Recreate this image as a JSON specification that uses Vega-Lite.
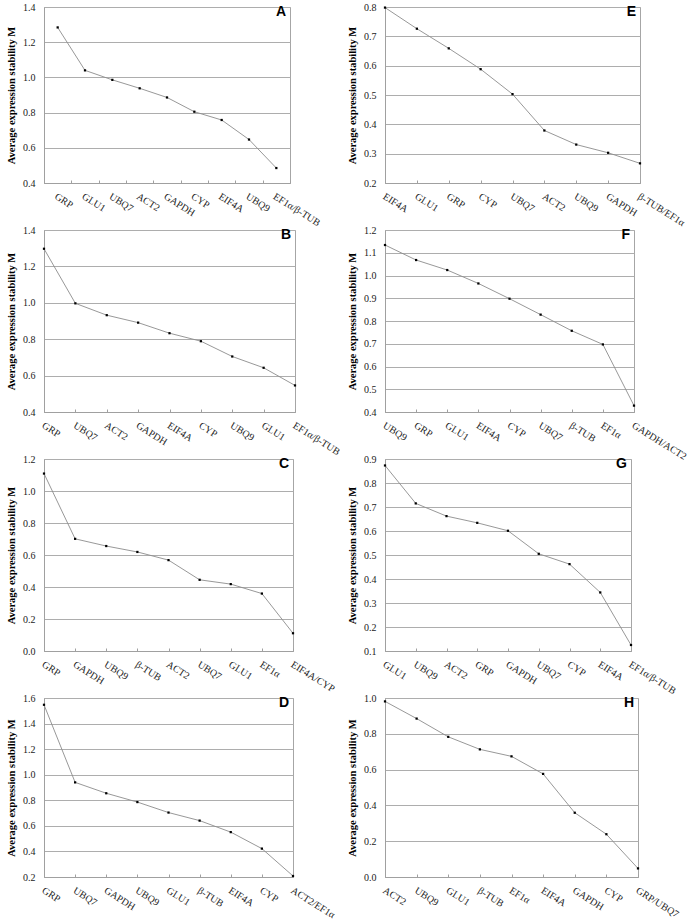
{
  "$schema": "https://vega.github.io/schema/vega-lite/v6.json",
  "padding": {"left": 6, "top": 1, "right": 0, "bottom": 0},
  "background": "white",
  "data": {"values": [
    {"panel": "A", "rank": 1, "gene": "GRP", "M": 1.284},
    {"panel": "A", "rank": 2, "gene": "GLU1", "M": 1.040},
    {"panel": "A", "rank": 3, "gene": "UBQ7", "M": 0.986},
    {"panel": "A", "rank": 4, "gene": "ACT2", "M": 0.938},
    {"panel": "A", "rank": 5, "gene": "GAPDH", "M": 0.886},
    {"panel": "A", "rank": 6, "gene": "CYP", "M": 0.805},
    {"panel": "A", "rank": 7, "gene": "EIF4A", "M": 0.758},
    {"panel": "A", "rank": 8, "gene": "UBQ9", "M": 0.647},
    {"panel": "A", "rank": 9, "gene": "EF1α/β-TUB", "M": 0.485},
    {"panel": "B", "rank": 1, "gene": "GRP", "M": 1.297},
    {"panel": "B", "rank": 2, "gene": "UBQ7", "M": 0.997},
    {"panel": "B", "rank": 3, "gene": "ACT2", "M": 0.932},
    {"panel": "B", "rank": 4, "gene": "GAPDH", "M": 0.891},
    {"panel": "B", "rank": 5, "gene": "EIF4A", "M": 0.833},
    {"panel": "B", "rank": 6, "gene": "CYP", "M": 0.789},
    {"panel": "B", "rank": 7, "gene": "UBQ9", "M": 0.705},
    {"panel": "B", "rank": 8, "gene": "GLU1", "M": 0.643},
    {"panel": "B", "rank": 9, "gene": "EF1α/β-TUB", "M": 0.546},
    {"panel": "C", "rank": 1, "gene": "GRP", "M": 1.109},
    {"panel": "C", "rank": 2, "gene": "GAPDH", "M": 0.701},
    {"panel": "C", "rank": 3, "gene": "UBQ9", "M": 0.656},
    {"panel": "C", "rank": 4, "gene": "β-TUB", "M": 0.619},
    {"panel": "C", "rank": 5, "gene": "ACT2", "M": 0.568},
    {"panel": "C", "rank": 6, "gene": "UBQ7", "M": 0.445},
    {"panel": "C", "rank": 7, "gene": "GLU1", "M": 0.418},
    {"panel": "C", "rank": 8, "gene": "EF1α", "M": 0.359},
    {"panel": "C", "rank": 9, "gene": "EIF4A/CYP", "M": 0.111},
    {"panel": "D", "rank": 1, "gene": "GRP", "M": 1.547},
    {"panel": "D", "rank": 2, "gene": "UBQ7", "M": 0.940},
    {"panel": "D", "rank": 3, "gene": "GAPDH", "M": 0.855},
    {"panel": "D", "rank": 4, "gene": "UBQ9", "M": 0.786},
    {"panel": "D", "rank": 5, "gene": "GLU1", "M": 0.704},
    {"panel": "D", "rank": 6, "gene": "β-TUB", "M": 0.641},
    {"panel": "D", "rank": 7, "gene": "EIF4A", "M": 0.551},
    {"panel": "D", "rank": 8, "gene": "CYP", "M": 0.422},
    {"panel": "D", "rank": 9, "gene": "ACT2/EF1α", "M": 0.208},
    {"panel": "E", "rank": 1, "gene": "EIF4A", "M": 0.798},
    {"panel": "E", "rank": 2, "gene": "GLU1", "M": 0.726},
    {"panel": "E", "rank": 3, "gene": "GRP", "M": 0.659},
    {"panel": "E", "rank": 4, "gene": "CYP", "M": 0.588},
    {"panel": "E", "rank": 5, "gene": "UBQ7", "M": 0.503},
    {"panel": "E", "rank": 6, "gene": "ACT2", "M": 0.379},
    {"panel": "E", "rank": 7, "gene": "UBQ9", "M": 0.331},
    {"panel": "E", "rank": 8, "gene": "GAPDH", "M": 0.303},
    {"panel": "E", "rank": 9, "gene": "β-TUB/EF1α", "M": 0.267},
    {"panel": "F", "rank": 1, "gene": "UBQ9", "M": 1.134},
    {"panel": "F", "rank": 2, "gene": "GRP", "M": 1.068},
    {"panel": "F", "rank": 3, "gene": "GLU1", "M": 1.024},
    {"panel": "F", "rank": 4, "gene": "EIF4A", "M": 0.965},
    {"panel": "F", "rank": 5, "gene": "CYP", "M": 0.898},
    {"panel": "F", "rank": 6, "gene": "UBQ7", "M": 0.828},
    {"panel": "F", "rank": 7, "gene": "β-TUB", "M": 0.757},
    {"panel": "F", "rank": 8, "gene": "EF1α", "M": 0.697},
    {"panel": "F", "rank": 9, "gene": "GAPDH/ACT2", "M": 0.428},
    {"panel": "G", "rank": 1, "gene": "GLU1", "M": 0.873},
    {"panel": "G", "rank": 2, "gene": "UBQ9", "M": 0.715},
    {"panel": "G", "rank": 3, "gene": "ACT2", "M": 0.662},
    {"panel": "G", "rank": 4, "gene": "GRP", "M": 0.634},
    {"panel": "G", "rank": 5, "gene": "GAPDH", "M": 0.601},
    {"panel": "G", "rank": 6, "gene": "UBQ7", "M": 0.505},
    {"panel": "G", "rank": 7, "gene": "CYP", "M": 0.462},
    {"panel": "G", "rank": 8, "gene": "EIF4A", "M": 0.344},
    {"panel": "G", "rank": 9, "gene": "EF1α/β-TUB", "M": 0.125},
    {"panel": "H", "rank": 1, "gene": "ACT2", "M": 0.981},
    {"panel": "H", "rank": 2, "gene": "UBQ9", "M": 0.885},
    {"panel": "H", "rank": 3, "gene": "GLU1", "M": 0.783},
    {"panel": "H", "rank": 4, "gene": "β-TUB", "M": 0.713},
    {"panel": "H", "rank": 5, "gene": "EF1α", "M": 0.674},
    {"panel": "H", "rank": 6, "gene": "EIF4A", "M": 0.576},
    {"panel": "H", "rank": 7, "gene": "GAPDH", "M": 0.359},
    {"panel": "H", "rank": 8, "gene": "CYP", "M": 0.239},
    {"panel": "H", "rank": 9, "gene": "GRP/UBQ7", "M": 0.048}
  ]},
  "columns": 2,
  "bounds": "flush",
  "spacing": {"row": 47, "column": 90},
  "concat": [
    {
      "width": 246, "height": 176,
      "title": {"text": "A"},
      "transform": [{"filter": "datum.panel === 'A'"}],
      "encoding": {
        "x": {"field": "gene", "type": "nominal", "sort": {"field": "rank", "op": "min"},
              "scale": {"type": "band", "paddingInner": 0, "paddingOuter": 0},
              "axis": {"tickBand": "extent", "labelOffset": 0}},
        "y": {"field": "M", "type": "quantitative", "scale": {"domain": [0.4, 1.4], "nice": false, "zero": false},
              "axis": {"values": [0.4, 0.6, 0.8, 1.0, 1.2, 1.4], "format": ".1f", "title": "Average expression stability M"}}
      },
      "layer": [
        {"mark": {"type": "line", "color": "#8c8c8c", "strokeWidth": 0.9}},
        {"mark": {"type": "point", "shape": "square", "size": 5, "filled": true, "color": "#000", "opacity": 1}}
      ]
    },
    {
      "width": 255, "height": 176,
      "title": {"text": "E"},
      "transform": [{"filter": "datum.panel === 'E'"}],
      "encoding": {
        "x": {"field": "gene", "type": "nominal", "sort": {"field": "rank", "op": "min"},
              "scale": {"type": "point", "padding": 0}},
        "y": {"field": "M", "type": "quantitative", "scale": {"domain": [0.2, 0.8], "nice": false, "zero": false},
              "axis": {"values": [0.2, 0.3, 0.4, 0.5, 0.6, 0.7, 0.8], "format": ".1f", "title": "Average expression stability M"}}
      },
      "layer": [
        {"mark": {"type": "line", "color": "#8c8c8c", "strokeWidth": 0.9}},
        {"mark": {"type": "point", "shape": "square", "size": 5, "filled": true, "color": "#000", "opacity": 1}}
      ]
    },
    {
      "width": 251, "height": 182,
      "title": {"text": "B"},
      "transform": [{"filter": "datum.panel === 'B'"}],
      "encoding": {
        "x": {"field": "gene", "type": "nominal", "sort": {"field": "rank", "op": "min"},
              "scale": {"type": "point", "padding": 0}},
        "y": {"field": "M", "type": "quantitative", "scale": {"domain": [0.4, 1.4], "nice": false, "zero": false},
              "axis": {"values": [0.4, 0.6, 0.8, 1.0, 1.2, 1.4], "format": ".1f", "title": "Average expression stability M"}}
      },
      "layer": [
        {"mark": {"type": "line", "color": "#8c8c8c", "strokeWidth": 0.9}},
        {"mark": {"type": "point", "shape": "square", "size": 5, "filled": true, "color": "#000", "opacity": 1}}
      ]
    },
    {
      "width": 249, "height": 182,
      "title": {"text": "F"},
      "transform": [{"filter": "datum.panel === 'F'"}],
      "encoding": {
        "x": {"field": "gene", "type": "nominal", "sort": {"field": "rank", "op": "min"},
              "scale": {"type": "point", "padding": 0}},
        "y": {"field": "M", "type": "quantitative", "scale": {"domain": [0.4, 1.2], "nice": false, "zero": false},
              "axis": {"values": [0.4, 0.5, 0.6, 0.7, 0.8, 0.9, 1.0, 1.1, 1.2], "format": ".1f", "title": "Average expression stability M"}}
      },
      "layer": [
        {"mark": {"type": "line", "color": "#8c8c8c", "strokeWidth": 0.9}},
        {"mark": {"type": "point", "shape": "square", "size": 5, "filled": true, "color": "#000", "opacity": 1}}
      ]
    },
    {
      "width": 249, "height": 192,
      "title": {"text": "C"},
      "transform": [{"filter": "datum.panel === 'C'"}],
      "encoding": {
        "x": {"field": "gene", "type": "nominal", "sort": {"field": "rank", "op": "min"},
              "scale": {"type": "point", "padding": 0}},
        "y": {"field": "M", "type": "quantitative", "scale": {"domain": [0.0, 1.2], "nice": false, "zero": false},
              "axis": {"values": [0.0, 0.2, 0.4, 0.6, 0.8, 1.0, 1.2], "format": ".1f", "title": "Average expression stability M"}}
      },
      "layer": [
        {"mark": {"type": "line", "color": "#8c8c8c", "strokeWidth": 0.9}},
        {"mark": {"type": "point", "shape": "square", "size": 5, "filled": true, "color": "#000", "opacity": 1}}
      ]
    },
    {
      "width": 246, "height": 192,
      "title": {"text": "G"},
      "transform": [{"filter": "datum.panel === 'G'"}],
      "encoding": {
        "x": {"field": "gene", "type": "nominal", "sort": {"field": "rank", "op": "min"},
              "scale": {"type": "point", "padding": 0}},
        "y": {"field": "M", "type": "quantitative", "scale": {"domain": [0.1, 0.9], "nice": false, "zero": false},
              "axis": {"values": [0.1, 0.2, 0.3, 0.4, 0.5, 0.6, 0.7, 0.8, 0.9], "format": ".1f", "title": "Average expression stability M"}}
      },
      "layer": [
        {"mark": {"type": "line", "color": "#8c8c8c", "strokeWidth": 0.9}},
        {"mark": {"type": "point", "shape": "square", "size": 5, "filled": true, "color": "#000", "opacity": 1}}
      ]
    },
    {
      "width": 249, "height": 179,
      "title": {"text": "D"},
      "transform": [{"filter": "datum.panel === 'D'"}],
      "encoding": {
        "x": {"field": "gene", "type": "nominal", "sort": {"field": "rank", "op": "min"},
              "scale": {"type": "point", "padding": 0}},
        "y": {"field": "M", "type": "quantitative", "scale": {"domain": [0.2, 1.6], "nice": false, "zero": false},
              "axis": {"values": [0.2, 0.4, 0.6, 0.8, 1.0, 1.2, 1.4, 1.6], "format": ".1f", "title": "Average expression stability M"}}
      },
      "layer": [
        {"mark": {"type": "line", "color": "#8c8c8c", "strokeWidth": 0.9}},
        {"mark": {"type": "point", "shape": "square", "size": 5, "filled": true, "color": "#000", "opacity": 1}}
      ]
    },
    {
      "width": 253, "height": 179,
      "title": {"text": "H"},
      "transform": [{"filter": "datum.panel === 'H'"}],
      "encoding": {
        "x": {"field": "gene", "type": "nominal", "sort": {"field": "rank", "op": "min"},
              "scale": {"type": "point", "padding": 0}},
        "y": {"field": "M", "type": "quantitative", "scale": {"domain": [0.0, 1.0], "nice": false, "zero": false},
              "axis": {"values": [0.0, 0.2, 0.4, 0.6, 0.8, 1.0], "format": ".1f", "title": "Average expression stability M"}}
      },
      "layer": [
        {"mark": {"type": "line", "color": "#8c8c8c", "strokeWidth": 0.9}},
        {"mark": {"type": "point", "shape": "square", "size": 5, "filled": true, "color": "#000", "opacity": 1}}
      ]
    }
  ],
  "config": {
    "view": {"stroke": "#a6a6a6", "strokeWidth": 1},
    "axis": {
      "labelFont": "Liberation Serif", "labelFontSize": 10, "labelColor": "#222",
      "titleFont": "Liberation Serif", "titleFontSize": 10.5, "titleFontWeight": "bold", "titleColor": "#000",
      "domainColor": "#a0a0a0", "gridColor": "#adadad", "tickColor": "#a0a0a0"
    },
    "axisX": {"labelAngle": 32, "labelAlign": "left", "labelBaseline": "top", "title": null, "grid": false,
              "ticks": true, "tickSize": -3, "labelPadding": 11, "labelOffset": 1},
    "axisY": {"ticks": false, "labelPadding": 9, "grid": true, "titlePadding": 6},
    "title": {"font": "Liberation Sans", "fontSize": 14, "fontWeight": "bold", "anchor": "end", "frame": "group",
              "offset": -17, "dx": -4, "color": "#000"}
  }
}
